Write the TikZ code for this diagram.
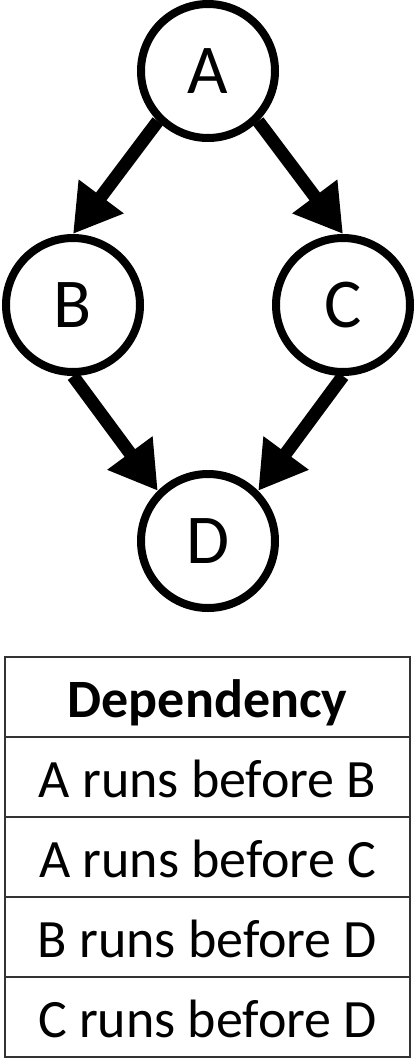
\documentclass[tikz,border=0pt]{standalone}
\usepackage{fontspec}
\setmainfont{Carlito}
\usetikzlibrary{arrows.meta}

\tikzset{every picture/.style={line width=0.75pt}}
\tikzset{
  task/.style={circle,draw,line width=8pt,minimum size=134pt,inner sep=0pt,font=\fontsize{70}{70}\selectfont},
  dep/.style={line width=13pt,-{Triangle[length=47pt,width=53pt]}},
  row/.style={rectangle,draw=black!80,line width=2pt,minimum width=405pt,minimum height=80pt,inner sep=0pt,text height=40pt,text depth=0pt,font=\fontsize{54}{54}\selectfont}
}

\begin{document}
\begin{tikzpicture}[x=1pt,y=1pt,yscale=-1,xscale=1]
\useasboundingbox (0,0) rectangle (416,1058);

% graph
\node [task] (A) at (208,71) {A};
\node [task] (B) at (73,305) {B};
\node [task] (C) at (343,305) {C};
\node [task] (D) at (208,541) {D};

\draw [dep] (A.south west) -- (B.north);
\draw [dep] (A.south east) -- (C.north);
\draw [dep] (B.south) -- (D.north west);
\draw [dep] (C.south) -- (D.north east);

% table
\node [row] (head) at (207.5,697) {\textbf{Dependency}};
\node [row] (ab) at (207.5,777) {A runs before B};
\node [row] (ac) at (207.5,857) {A runs before C};
\node [row] (bd) at (207.5,937) {B runs before D};
\node [row] (cd) at (207.5,1017) {C runs before D};

\end{tikzpicture}
\end{document}
